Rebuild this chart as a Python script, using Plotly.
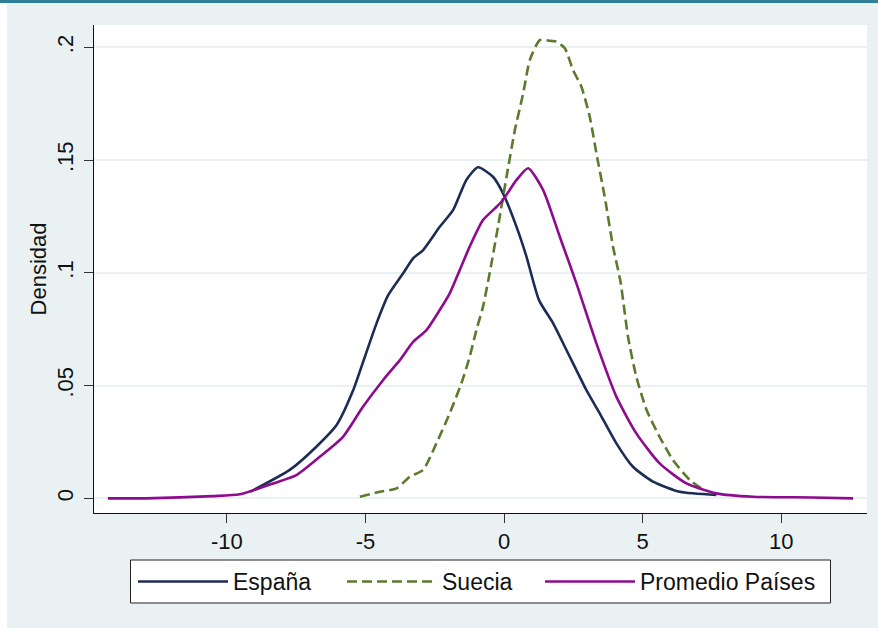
import plotly.graph_objects as go

# ---- data ----
espana_x = [-9.16, -7.73, -6.77, -6.04, -5.44, -5.02, -4.60, -4.18, -3.64, -3.28, -2.92, -2.32,
            -1.84, -1.36, -0.94, -0.40, -0.04, 0.45, 0.81, 1.26, 1.77, 2.25, 2.97, 3.45,
            4.05, 4.65, 5.37, 6.34, 7.66]
espana_y = [0.0029, 0.0126, 0.0229, 0.0325, 0.0480, 0.0628, 0.0776, 0.0901, 0.0998, 0.1064,
            0.1101, 0.1204, 0.1278, 0.1412, 0.1468, 0.1426, 0.1353, 0.1204, 0.1071, 0.0879,
            0.0776, 0.0658, 0.0480, 0.0377, 0.0244, 0.0140, 0.0074, 0.0029, 0.0015]

suecia_x = [-5.20, -4.48, -3.88, -3.40, -2.92, -2.44, -1.96, -1.54, -1.24, -1.00, -0.76, -0.52,
            -0.22, 0.09, 0.39, 0.69, 0.93, 1.29, 1.65, 1.89, 2.19, 2.49, 2.79, 3.09, 3.33,
            3.63, 3.93, 4.20, 4.47, 4.77, 5.14, 5.61, 6.09, 6.70, 7.10]
suecia_y = [0.0007, 0.0029, 0.0044, 0.0096, 0.0126, 0.0244, 0.0377, 0.0510, 0.0628, 0.0746,
            0.0850, 0.0998, 0.1204, 0.1426, 0.1633, 0.1796, 0.1944, 0.2032, 0.2029, 0.2025,
            0.1996, 0.1899, 0.1825, 0.1692, 0.1530, 0.1337, 0.1116, 0.0960, 0.0717, 0.0539,
            0.0392, 0.0273, 0.0170, 0.0081, 0.0045]

promedio_x = [-14.29, -12.90, -10.50, -9.53, -8.33, -7.49, -6.65, -5.81, -5.09, -4.36, -3.76,
              -3.28, -2.80, -2.32, -1.96, -1.60, -1.24, -0.76, -0.27, -0.04, 0.45, 0.87, 1.41,
              2.01, 2.61, 3.33, 4.05, 4.77, 5.61, 6.58, 7.66, 8.98, 11.10, 12.59]
promedio_y = [0.0000, 0.0000, 0.0010, 0.0018, 0.0066, 0.0103, 0.0184, 0.0273, 0.0406, 0.0525,
              0.0613, 0.0694, 0.0746, 0.0835, 0.0909, 0.1012, 0.1116, 0.1234, 0.1293, 0.1323,
              0.1412, 0.1464, 0.1367, 0.1160, 0.0953, 0.0687, 0.0451, 0.0288, 0.0155, 0.0066,
              0.0022, 0.0007, 0.0004, 0.0000]

x_ticks = [-10, -5, 0, 5, 10]
x_ticktext = ["-10", "-5", "0", "5", "10"]
y_ticks = [0, 0.05, 0.1, 0.15, 0.2]
y_ticktext = ["0", ".05", ".1", ".15", ".2"]

FONT = "Liberation Sans, Arial, sans-serif"
FS = 22
LFS = 23

fig = go.Figure()
fig.add_trace(go.Scatter(x=espana_x, y=espana_y, mode="lines", name="España", legend="legend",
                         line=dict(color="#1C2D55", width=2.6, shape="spline", smoothing=0.6)))
fig.add_trace(go.Scatter(x=suecia_x, y=suecia_y, mode="lines", name="Suecia", legend="legend2",
                         line=dict(color="#5B7B2C", width=2.6, dash="10px,5px",
                                   shape="spline", smoothing=0.6)))
fig.add_trace(go.Scatter(x=promedio_x, y=promedio_y, mode="lines", name="Promedio Países",
                         legend="legend3",
                         line=dict(color="#8E0A8E", width=2.6, shape="spline", smoothing=0.6)))

BG = "#EAF1F3"
PW, PH = 773.0, 488.0  # plot area size in px
def px_x(p):
    return (p - 94) / PW
def px_y(p):
    return (513 - p) / PH

shapes = [
    # white strip on the far left
    dict(type="rect", xref="paper", yref="paper", x0=px_x(-5), x1=px_x(7), y0=px_y(640), y1=px_y(-5),
         fillcolor="white", line=dict(width=0), layer="above"),
    # teal bar at the top
    dict(type="rect", xref="paper", yref="paper", x0=px_x(-5), x1=px_x(885), y0=px_y(3), y1=px_y(-5),
         fillcolor="#2E7E98", line=dict(width=0), layer="above"),
    # legend frame
    dict(type="rect", xref="paper", yref="paper", x0=px_x(130.5), x1=px_x(830.5),
         y0=px_y(603), y1=px_y(560), fillcolor="white",
         line=dict(color="#222222", width=1), layer="above"),
]

def leg(xpx):
    return dict(orientation="h", x=px_x(xpx), xanchor="left", y=px_y(560), yanchor="top",
                bgcolor="rgba(0,0,0,0)", borderwidth=0,
                font=dict(family=FONT, size=LFS, color="#111111"), itemwidth=90)

fig.update_layout(
    width=878, height=628,
    margin=dict(l=94, r=11, t=25, b=115, autoexpand=False),
    paper_bgcolor=BG, plot_bgcolor="white",
    font=dict(family=FONT, size=FS, color="#111111"),
    showlegend=True,
    legend=leg(133), legend2=leg(342), legend3=leg(540),
    shapes=shapes,
    xaxis=dict(range=[-14.79, 13.09], tickvals=x_ticks, ticktext=x_ticktext, ticks="outside",
               ticklen=9, tickcolor="#333333", tickwidth=1, showline=True, linecolor="#111111",
               linewidth=1, showgrid=False, zeroline=False, automargin=False,
               tickfont=dict(size=FS)),
    yaxis=dict(range=[-0.0065, 0.2099], tickvals=y_ticks, ticktext=y_ticktext,
               tickangle=-90, ticks="outside", ticklen=9, tickcolor="#333333", tickwidth=1,
               showline=True, linecolor="#111111", linewidth=1, automargin=False,
               ticklabelstandoff=2,
               showgrid=True, gridcolor=BG, gridwidth=1.5, zeroline=False,
               tickfont=dict(size=FS),
               title=dict(text="Densidad", font=dict(size=FS), standoff=0)),
)

fig.write_html("out.html", config={"displayModeBar": False},
               post_script="document.body.style.margin='0';document.body.style.overflow='hidden';")
